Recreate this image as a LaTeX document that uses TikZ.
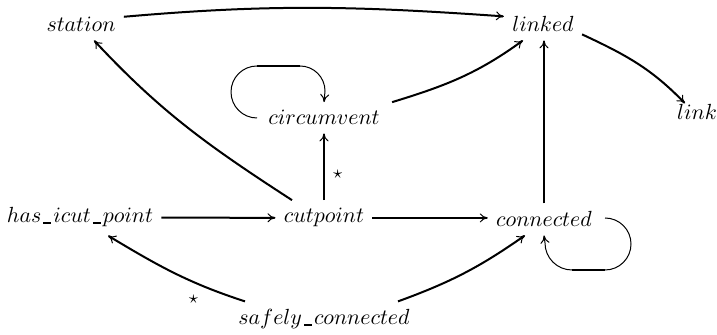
\documentclass[tikz,border=0pt]{standalone}
\usetikzlibrary{arrows.meta}
\newcommand\us{\mathord{\kern1pt\rule[-0.4pt]{4pt}{1pt}\kern1pt}}
\begin{document}
\begin{tikzpicture}[x=0.5pt,y=0.5pt,
  lbl/.style={font=\fontsize{11}{13}\selectfont, inner sep=4pt, anchor=base},
  tip/.style={-{To[length=4pt,width=4.5pt,line width=0.5pt]}},
  edge/.style={line width=1pt, tip},
  loopline/.style={line width=0.5pt},
  star/.style={font=\fontsize{9}{10}\selectfont, inner sep=1pt}]
\useasboundingbox (0,0) rectangle (717,335);
% nodes
\node[lbl] (station) at (81,303) {$station$};
\node[lbl] (linked) at (543,303) {$linked$};
\node[lbl] (link) at (697,215) {$link$};
\node[lbl] (circumvent) at (324,210) {$circumvent$};
\node[lbl] (has) at (80,112) {$has\us icut\us point$};
\node[lbl] (cutpoint) at (324,112) {$cutpoint$};
\node[lbl] (connected) at (544,108) {$connected$};
\node[lbl] (safely) at (324,10) {$safely\us connected$};
% edges
\draw[edge] ([yshift=4pt]station.east) to[out=5,in=176] ([yshift=4pt]linked.west);
\draw[edge] ([xshift=-16pt]cutpoint.north) to[out=147,in=-47] ([xshift=6.5pt]station.south);
\draw[edge] ([xshift=2pt]circumvent.north east) to[out=17,in=216] ([xshift=-10pt]linked.south);
\draw[edge] ([yshift=-5pt]linked.east) to[out=-25,in=134] ([xshift=-6pt,yshift=-3.5pt]link.north);
\draw[edge] (connected.north) -- (connected.north |- linked.south);
\draw[edge] (cutpoint.north) -- node[star, pos=0.38, right=3pt] {$\star$} (cutpoint.north |- circumvent.south);
\draw[edge] (has) -- (cutpoint);
\draw[edge] (cutpoint) -- (cutpoint -| connected.west);
\draw[edge] ([xshift=-39.5pt]safely.north) to[out=162,in=-31] node[star, pos=0.35, below=5pt] {$\star$} ([xshift=14pt]has.south);
\draw[edge] ([xshift=37pt]safely.north) to[out=20,in=215] ([xshift=-9.5pt]connected.south);
% self loops
\coordinate (cl) at (257,217);
\draw[loopline] (cl) arc[start angle=270, end angle=90, radius=26] coordinate (cla);
\draw[line width=1pt] (cla) -- ++(43,0) coordinate (clb);
\draw[loopline, tip] (clb) arc[start angle=90, end angle=0, radius=25] -- (circumvent.north);
\coordinate (nl) at (605,117);
\draw[loopline] (nl) arc[start angle=90, end angle=-90, radius=26] coordinate (nla);
\draw[line width=1pt] (nla) -- ++(-33,0) coordinate (nlb);
\draw[loopline, tip] (nlb) arc[start angle=270, end angle=180, radius=27] -- (connected.south);
\end{tikzpicture}
\end{document}
